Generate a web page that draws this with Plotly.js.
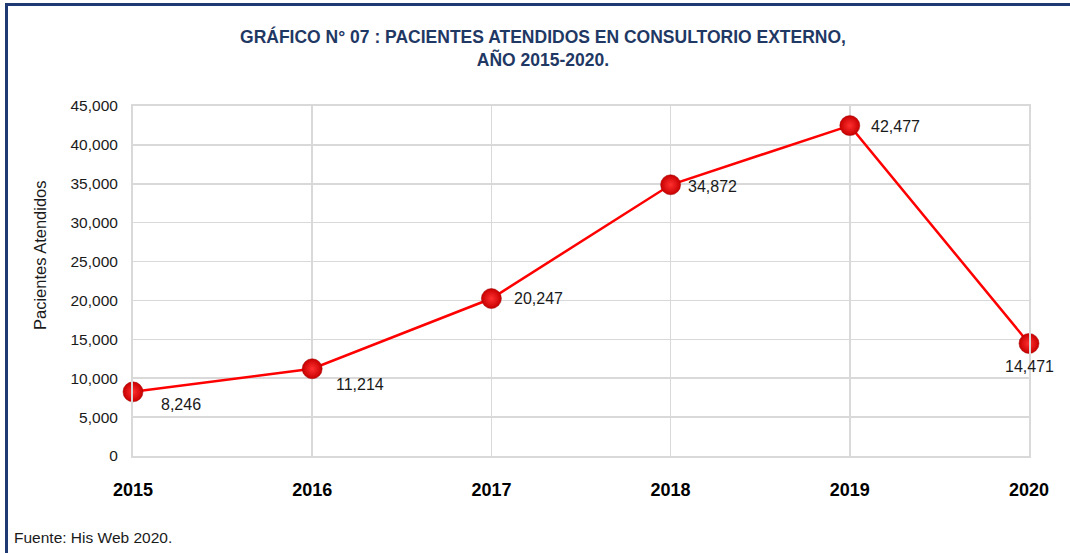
<!DOCTYPE html>
<html>
<head>
<meta charset="utf-8">
<script src="https://cdn.plot.ly/plotly-3.0.1.min.js"></script>
<style>
  html, body { margin: 0; padding: 0; background: #fff; }
  #wrap { position: relative; width: 1070px; height: 553px; overflow: hidden; }
  #chart { width: 1070px; height: 553px; }
  #frame { position: absolute; left: 5px; top: 3px; width: 1100px; height: 600px;
           border-top: 3px solid #1F3A73; border-left: 3px solid #1F3A73; pointer-events: none; }
</style>
</head>
<body>
<div id="wrap">
  <div id="chart"></div>
  <div id="frame"></div>
</div>
<script>
const years = [2015, 2016, 2017, 2018, 2019, 2020];
const pacientes = [8246, 11214, 20247, 34872, 42477, 14471];
const labelDx = [48, 48, 47, 42, 46, 0];
const labelDy = [-13, -16, 0, -2, -1, -23];
const yTicks = [0, 5000, 10000, 15000, 20000, 25000, 30000, 35000, 40000, 45000];

const regular = '"Liberation Sans", Arial, sans-serif';

const trace = {
  x: years,
  y: pacientes,
  type: 'scatter',
  mode: 'lines+markers',
  line: { color: '#FF0000', width: 2.5 },
  marker: { size: 20, color: '#C80000', gradient: { type: 'radial', color: '#FF3030' },
            line: { color: '#A00000', width: 0.5 } },
  cliponaxis: false,
  hoverinfo: 'x+y'
};

const annotations = years.map((yr, i) => ({
  x: yr, y: pacientes[i], xref: 'x', yref: 'y',
  text: pacientes[i].toLocaleString('en-US'),
  showarrow: false, xshift: labelDx[i], yshift: labelDy[i],
  font: { family: regular, size: 16, color: '#1a1a1a' }
}));

annotations.push({
  xref: 'paper', yref: 'paper', x: (12 - 133) / 896, y: -(537 - 456) / 350,
  xanchor: 'left', yanchor: 'middle', showarrow: false,
  text: 'Fuente: His Web 2020.',
  font: { family: regular, size: 15.5, color: '#1a1a1a' }
});

annotations.push({
  xref: 'paper', yref: 'paper', x: (40 - 133) / 896, y: (456 - 255) / 350,
  xanchor: 'center', yanchor: 'middle', showarrow: false, textangle: -90,
  text: 'Pacientes Atendidos',
  font: { family: regular, size: 16.5, color: '#1a1a1a' }
});

const layout = {
  width: 1070, height: 553,
  margin: { l: 133, r: 41, t: 106, b: 97 },
  paper_bgcolor: '#ffffff', plot_bgcolor: '#ffffff',
  showlegend: false,
  title: {
    text: 'GRÁFICO N° 07 : PACIENTES ATENDIDOS EN CONSULTORIO EXTERNO,<br>AÑO 2015-2020.',
    xref: 'container', yref: 'container', x: 543 / 1070, xanchor: 'center',
    y: 1 - 43 / 553, yanchor: 'top',
    font: { family: regular, size: 17.5, color: '#1F3864', weight: 'bold' }
  },
  xaxis: {
    type: 'linear', range: [2015, 2020], tickvals: years, ticktext: years.map(String),
    showgrid: true, gridcolor: '#D9D9D9', gridwidth: 1.5,
    showline: true, linecolor: '#D9D9D9', linewidth: 2, mirror: true,
    zeroline: false, ticks: 'outside', ticklen: 16, tickcolor: 'rgba(0,0,0,0)',
    tickfont: { family: regular, size: 18, color: '#000', weight: 'bold' },
    fixedrange: true
  },
  yaxis: {
    range: [0, 45000], tickvals: yTicks, tickformat: ',d',
    showgrid: true, gridcolor: '#D9D9D9', gridwidth: 1.5,
    showline: true, linecolor: '#D9D9D9', linewidth: 2, mirror: true,
    zeroline: false, ticks: 'outside', ticklen: 10, tickcolor: 'rgba(0,0,0,0)',
    tickfont: { family: regular, size: 15.5, color: '#1a1a1a' },
    fixedrange: true
  },
  annotations: annotations
};

Plotly.newPlot('chart', [trace], layout, { displayModeBar: false, staticPlot: true });
</script>
</body>
</html>
